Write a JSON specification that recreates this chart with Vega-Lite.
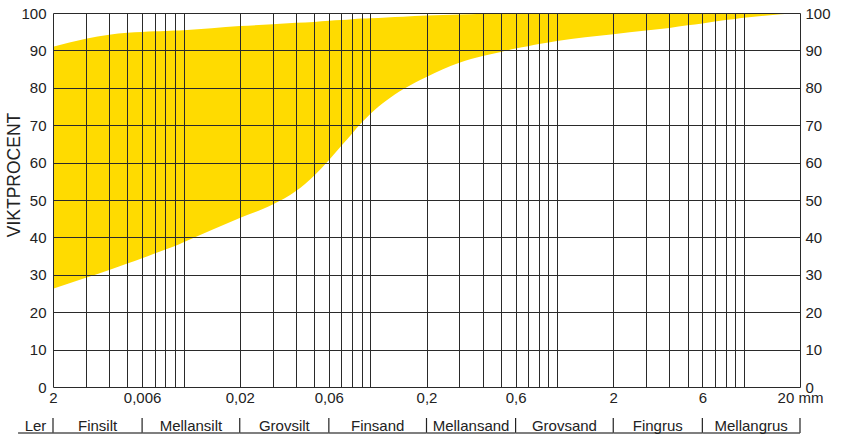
{
  "$schema": "https://vega.github.io/schema/vega-lite/v6.json",
  "padding": {"left": 5, "top": 6, "right": 5, "bottom": 0},
  "background": "white",
  "config": {
    "view": {"stroke": null},
    "font": "Liberation Sans",
    "text": {"font": "Liberation Sans"}
  },
  "datasets": {
    "band": [
      {"size": 0.002, "lower": 26.3, "upper": 91.0},
      {"size": 0.003, "lower": 29.2, "upper": 93.1},
      {"size": 0.004, "lower": 31.3, "upper": 94.2},
      {"size": 0.005, "lower": 33.0, "upper": 94.7},
      {"size": 0.006, "lower": 34.4, "upper": 94.9},
      {"size": 0.007, "lower": 35.7, "upper": 95.1},
      {"size": 0.008, "lower": 36.75, "upper": 95.2},
      {"size": 0.009, "lower": 37.7, "upper": 95.3},
      {"size": 0.01, "lower": 38.7, "upper": 95.4},
      {"size": 0.02, "lower": 45.2, "upper": 96.5},
      {"size": 0.03, "lower": 48.8, "upper": 97.0},
      {"size": 0.04, "lower": 52.4, "upper": 97.4},
      {"size": 0.05, "lower": 56.5, "upper": 97.6},
      {"size": 0.06, "lower": 60.6, "upper": 97.9},
      {"size": 0.07, "lower": 64.5, "upper": 98.1},
      {"size": 0.08, "lower": 67.8, "upper": 98.3},
      {"size": 0.09, "lower": 70.7, "upper": 98.5},
      {"size": 0.1, "lower": 73.0, "upper": 98.6},
      {"size": 0.122, "lower": 76.6, "upper": 98.8},
      {"size": 0.15, "lower": 79.6, "upper": 99.0},
      {"size": 0.2, "lower": 82.9, "upper": 99.3},
      {"size": 0.3, "lower": 86.7, "upper": 99.6},
      {"size": 0.4, "lower": 88.5, "upper": 99.8},
      {"size": 0.5, "lower": 89.6, "upper": 100},
      {"size": 0.6, "lower": 90.5, "upper": 100},
      {"size": 0.7, "lower": 91.1, "upper": 100},
      {"size": 0.8, "lower": 91.7, "upper": 100},
      {"size": 0.9, "lower": 92.1, "upper": 100},
      {"size": 1, "lower": 92.5, "upper": 100},
      {"size": 2, "lower": 94.3, "upper": 100},
      {"size": 3, "lower": 95.3, "upper": 100},
      {"size": 4, "lower": 96.0, "upper": 100},
      {"size": 5, "lower": 96.7, "upper": 100},
      {"size": 6, "lower": 97.2, "upper": 100},
      {"size": 7, "lower": 97.7, "upper": 100},
      {"size": 8, "lower": 98.1, "upper": 100},
      {"size": 9, "lower": 98.4, "upper": 100},
      {"size": 10, "lower": 98.7, "upper": 100},
      {"size": 20, "lower": 100, "upper": 100}
    ],
    "classes": [
      {"klass": "Ler", "from": 0.0013, "to": 0.002},
      {"klass": "Finsilt", "from": 0.002, "to": 0.006},
      {"klass": "Mellansilt", "from": 0.006, "to": 0.02},
      {"klass": "Grovsilt", "from": 0.02, "to": 0.06},
      {"klass": "Finsand", "from": 0.06, "to": 0.2},
      {"klass": "Mellansand", "from": 0.2, "to": 0.6},
      {"klass": "Grovsand", "from": 0.6, "to": 2},
      {"klass": "Fingrus", "from": 2, "to": 6},
      {"klass": "Mellangrus", "from": 6, "to": 20}
    ]
  },
  "resolve": {"scale": {"x": "independent", "y": "independent"}},
  "spacing": 12,
  "vconcat": [
    {
      "width": 747,
      "height": 374,
      "data": {"name": "band"},
      "layer": [
        {
          "mark": {"type": "area", "color": "#FFDB00", "interpolate": "monotone"},
          "encoding": {
            "x": {
              "field": "size",
              "type": "quantitative",
              "scale": {"type": "log", "domain": [0.002, 20], "nice": false},
              "axis": {
                "orient": "bottom",
                "values": [0.002, 0.003, 0.004, 0.005, 0.006, 0.007, 0.008, 0.009, 0.01, 0.02, 0.03, 0.04, 0.05, 0.06, 0.07, 0.08, 0.09, 0.1, 0.2, 0.3, 0.4, 0.5, 0.6, 0.7, 0.8, 0.9, 1, 2, 3, 4, 5, 6, 7, 8, 9, 10, 20],
                "grid": true,
                "gridColor": "#2a2a2a",
                "gridWidth": 1,
                "gridOpacity": 1,
                "ticks": false,
                "domain": false,
                "labelExpr": "datum.value == 0.002 ? '2' : datum.value == 20 ? '20 mm' : indexof([0.006, 0.02, 0.06, 0.2, 0.6, 2, 6], datum.value) >= 0 ? replace(toString(datum.value), '.', ',') : ''",
                "labelFontSize": 15,
                "labelColor": "#222222",
                "labelPadding": 3,
                "labelOverlap": false,
                "labelFlush": false,
                "labelBound": false,
                "encode": {
                  "labels": {
                    "update": {
                      "align": {"signal": "datum.value == 20 ? 'left' : 'center'"},
                      "dx": {"signal": "datum.value == 20 ? -8 : (datum.value == 0.002 ? -2 : (datum.value < 1 ? 4 : (datum.value == 2 ? 2 : 0)))"}
                    }
                  }
                },
                "title": null,
                "zindex": 1
              }
            },
            "y": {
              "field": "upper",
              "type": "quantitative",
              "scale": {"domain": [0, 100], "nice": false},
              "axis": {
                "orient": "left",
                "values": [0, 10, 20, 30, 40, 50, 60, 70, 80, 90, 100],
                "grid": true,
                "gridColor": "#2a2a2a",
                "gridWidth": 1,
                "gridOpacity": 1,
                "ticks": false,
                "domain": false,
                "labelFontSize": 15,
                "labelColor": "#222222",
                "labelPadding": 7,
                "title": "VIKTPROCENT",
                "titleFontSize": 17.5,
                "titleFontWeight": "normal",
                "titleColor": "#222222",
                "titleX": -39,
                "titleY": 161.5,
                "titleAngle": 270,
                "titleAlign": "center",
                "titleBaseline": "middle",
                "zindex": 1
              }
            },
            "y2": {"field": "lower"}
          }
        },
        {
          "mark": {"type": "point", "opacity": 0},
          "encoding": {
            "x": {"field": "size", "type": "quantitative"},
            "y": {
              "field": "lower",
              "type": "quantitative",
              "axis": {
                "orient": "right",
                "values": [0, 10, 20, 30, 40, 50, 60, 70, 80, 90, 100],
                "grid": false,
                "ticks": false,
                "domain": false,
                "labelFontSize": 15,
                "labelColor": "#222222",
                "labelPadding": 5,
                "title": null
              }
            }
          }
        }
      ],
      "resolve": {"axis": {"y": "independent"}}
    },
    {
      "width": 747,
      "height": 15,
      "data": {"name": "classes"},
      "transform": [{"calculate": "sqrt(datum.from * datum.to)", "as": "mid"}],
      "layer": [
        {
          "mark": {"type": "rule", "color": "#222222", "strokeWidth": 1.2},
          "encoding": {
            "x": {"field": "to", "type": "quantitative", "scale": {"type": "log", "domain": [0.002, 20], "nice": false}, "axis": null}
          }
        },
        {
          "mark": {"type": "rule", "color": "#555555", "strokeWidth": 1.6},
          "encoding": {
            "x": {"field": "from", "type": "quantitative"},
            "x2": {"field": "to"},
            "y": {"datum": 0, "type": "quantitative", "scale": {"domain": [0, 1]}, "axis": null}
          }
        },
        {
          "mark": {"type": "text", "fontSize": 15, "color": "#222222"},
          "encoding": {
            "x": {"field": "mid", "type": "quantitative"},
            "text": {"field": "klass"}
          }
        }
      ]
    }
  ]
}
